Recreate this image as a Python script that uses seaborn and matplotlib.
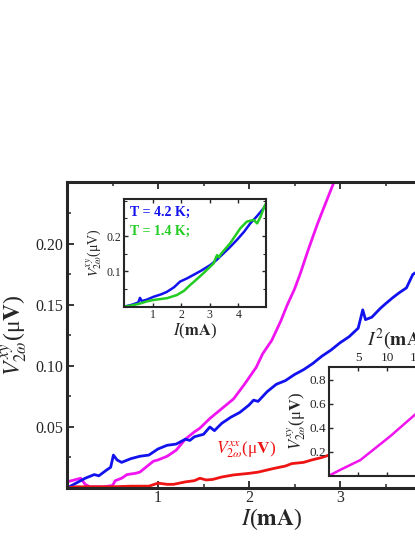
import numpy as np
import pandas as pd
import matplotlib
matplotlib.use("Agg")
import matplotlib.pyplot as plt
import seaborn as sns
from matplotlib.ticker import MultipleLocator, FixedLocator

# ---------------- data ----------------
# main panel: I (mA) vs V (uV)
blue_x = [0.0, 0.1, 0.2, 0.3, 0.35, 0.44, 0.48, 0.51, 0.55, 0.6, 0.7, 0.8, 0.9, 1.0, 1.1, 1.2, 1.3, 1.35,
          1.4, 1.5, 1.57, 1.62, 1.7, 1.8, 1.9, 2.0, 2.05, 2.1, 2.2, 2.3, 2.4, 2.5, 2.6, 2.7, 2.8, 2.9, 3.0,
          3.1, 3.2, 3.25, 3.28, 3.35, 3.44, 3.5, 3.58, 3.65, 3.73, 3.8, 3.9, 4.0, 4.2, 4.5]
blue_y = [0.000, 0.004, 0.008, 0.011, 0.010, 0.015, 0.017, 0.027, 0.023, 0.021, 0.024, 0.026, 0.027, 0.032,
          0.035, 0.036, 0.040, 0.039, 0.042, 0.044, 0.050, 0.047, 0.053, 0.058, 0.062, 0.068, 0.072, 0.071,
          0.079, 0.085, 0.088, 0.093, 0.097, 0.102, 0.108, 0.113, 0.119, 0.124, 0.131, 0.146, 0.138, 0.140,
          0.147, 0.151, 0.156, 0.160, 0.164, 0.175, 0.180, 0.188, 0.200, 0.220]

mag_x = [0.0, 0.1, 0.15, 0.2, 0.25, 0.3, 0.4, 0.5, 0.53, 0.6, 0.66, 0.75, 0.8, 0.9, 0.95, 1.0, 1.1, 1.2,
         1.3, 1.4, 1.46, 1.57, 1.7, 1.83, 1.95, 2.08, 2.15, 2.25, 2.35, 2.42, 2.5, 2.56, 2.65, 2.75, 2.85,
         2.93, 3.0]
mag_y = [0.005, 0.007, 0.008, 0.003, 0.001, 0.001, 0.001, 0.002, 0.006, 0.008, 0.011, 0.012, 0.013, 0.019,
         0.022, 0.023, 0.026, 0.031, 0.040, 0.046, 0.049, 0.057, 0.065, 0.073, 0.085, 0.099, 0.110, 0.121,
         0.137, 0.150, 0.163, 0.175, 0.195, 0.216, 0.235, 0.250, 0.265]

red_x = [0.0, 0.1, 0.3, 0.5, 0.7, 0.9, 1.0, 1.1, 1.17, 1.3, 1.4, 1.46, 1.53, 1.6, 1.7, 1.83, 2.0, 2.1,
         2.27, 2.4, 2.47, 2.6, 2.69, 2.8, 2.88, 3.0, 3.2]
red_y = [0.000, 0.001, 0.001, 0.001, 0.0015, 0.0015, 0.004, 0.003, 0.003, 0.005, 0.006, 0.008, 0.0066,
         0.007, 0.009, 0.0107, 0.012, 0.013, 0.016, 0.018, 0.020, 0.021, 0.023, 0.025, 0.027, 0.029, 0.032]

# inset 1: two temperatures
in1_blue_x = [0.0, 0.3, 0.5, 0.56, 0.62, 0.8, 1.03, 1.3, 1.5, 1.75, 1.96, 2.2, 2.43, 2.7, 3.02, 3.25,
              3.48, 3.7, 3.95, 4.2, 4.42, 4.65, 4.89, 4.95]
in1_blue_y = [0.0, 0.006, 0.012, 0.025, 0.016, 0.020, 0.028, 0.035, 0.042, 0.055, 0.071, 0.080, 0.090,
              0.102, 0.118, 0.133, 0.151, 0.168, 0.189, 0.212, 0.236, 0.256, 0.279, 0.288]
in1_green_x = [0.0, 0.3, 0.56, 0.8, 1.03, 1.3, 1.5, 1.85, 2.1, 2.31, 2.55, 2.78, 3.0, 3.14, 3.22, 3.26,
               3.32, 3.4, 3.72, 4.07, 4.3, 4.54, 4.66, 4.78, 4.89, 4.95]
in1_green_y = [0.0, 0.004, 0.009, 0.015, 0.019, 0.022, 0.024, 0.033, 0.045, 0.061, 0.078, 0.095, 0.112,
               0.123, 0.140, 0.146, 0.140, 0.150, 0.180, 0.222, 0.241, 0.246, 0.236, 0.255, 0.279, 0.290]

# inset 2: I^2 (mA^2) vs V
in2_x = [0.0, 2.0, 5.4, 8.0, 10.5, 14.8, 20.0, 25.0]
in2_y = [0.0, 0.05, 0.13, 0.23, 0.326, 0.507, 0.71, 0.91]

labels_T = ["T = 4.2 K;", "T = 1.4 K;"]

# ---------------- style ----------------
sns.set_style("ticks")
plt.rcParams["font.family"] = ["Liberation Serif", "DejaVu Serif"]
plt.rcParams["mathtext.fontset"] = "stix"
plt.rcParams["xtick.direction"] = "in"
plt.rcParams["ytick.direction"] = "in"

BLUE = "#1212ee"
MAG = "#f014f0"
RED = "#ee1414"
GREEN = "#22cc22"

W, H = 415, 537
fig = plt.figure(figsize=(W / 100, H / 100), dpi=100)

def px_axes(l, r, t, b):
    return [l / W, 1 - b / H, (r - l) / W, (b - t) / H]

# main axes
ax = fig.add_axes(px_axes(67, 67 + 4.5 * 91, 182, 488))
sns.lineplot(x=mag_x, y=mag_y, ax=ax, color=MAG, linewidth=2, sort=False)
sns.lineplot(x=blue_x, y=blue_y, ax=ax, color=BLUE, linewidth=2, sort=False)
sns.lineplot(x=red_x, y=red_y, ax=ax, color=RED, linewidth=2, sort=False)
ax.set_xlim(0, 4.5)
ax.set_ylim(0, 0.2508)
ax.xaxis.set_major_locator(FixedLocator([1, 2, 3, 4]))
ax.xaxis.set_minor_locator(MultipleLocator(0.5))
ax.yaxis.set_major_locator(FixedLocator([0.05, 0.10, 0.15, 0.20]))
ax.yaxis.set_minor_locator(MultipleLocator(0.025))
ax.set_yticklabels(["0.05", "0.10", "0.15", "0.20"])
ax.tick_params(which="both", top=True, right=True, labelsize=11.5)
ax.tick_params(axis="y", pad=3)
ax.tick_params(axis="x", pad=1.5)
ax.tick_params(which="major", length=5, width=1.3)
ax.tick_params(which="minor", length=3, width=1.1)
for s in ax.spines.values():
    s.set_linewidth(2.2)
ax.set_xlabel(r"$I$($\mathbf{mA}$)", fontsize=17, labelpad=0)
ax.set_ylabel(r"$V_{2\omega}^{xy}$(μ$\mathbf{V}$)", fontsize=17, labelpad=4)
ax.text(246 / W, 1 - 450 / H, r"$V_{2\omega}^{xx}$(μ$\mathbf{V}$)", color=RED, fontsize=12.5,
        transform=fig.transFigure, ha="center", va="center")

# inset 1
ax1 = fig.add_axes(px_axes(124, 266, 199, 306.7))
sns.lineplot(x=in1_blue_x, y=in1_blue_y, ax=ax1, color=BLUE, linewidth=1.8, sort=False)
sns.lineplot(x=in1_green_x, y=in1_green_y, ax=ax1, color=GREEN, linewidth=1.8, sort=False)
ax1.set_xlim(0, 4.97)
ax1.set_ylim(0, 0.305)
ax1.xaxis.set_major_locator(FixedLocator([1, 2, 3, 4]))
ax1.yaxis.set_major_locator(FixedLocator([0.1, 0.2]))
ax1.yaxis.set_minor_locator(MultipleLocator(0.05))
ax1.set_yticklabels(["0.1", "0.2"])
ax1.tick_params(which="both", top=True, right=True, labelsize=8.5, pad=2)
ax1.tick_params(which="major", length=3, width=1)
ax1.tick_params(which="minor", length=2, width=0.8)
for s in ax1.spines.values():
    s.set_linewidth(1.5)
ax1.set_xlabel(r"$I$($\mathbf{mA}$)", fontsize=12, labelpad=0)
ax1.set_ylabel(r"$V_{2\omega}^{xy}$(μV)", fontsize=10, labelpad=1)
ax1.text(0.04, 0.94, labels_T[0], color=BLUE, fontsize=10, fontweight="bold",
         transform=ax1.transAxes, ha="left", va="top")
ax1.text(0.04, 0.76, labels_T[1], color=GREEN, fontsize=10, fontweight="bold",
         transform=ax1.transAxes, ha="left", va="top")

# inset 2
ax2 = fig.add_axes(px_axes(329, 329 + 25 * 5.8, 366.7, 475.7))
sns.lineplot(x=in2_x, y=in2_y, ax=ax2, color=MAG, linewidth=1.8, sort=False)
ax2.set_xlim(0, 25)
ax2.set_ylim(0, 0.907)
ax2.xaxis.set_major_locator(FixedLocator([5, 10, 15, 20]))
ax2.yaxis.set_major_locator(FixedLocator([0.2, 0.4, 0.6, 0.8]))
ax2.set_yticklabels(["0.2", "0.4", "0.6", "0.8"])
ax2.tick_params(which="both", top=True, right=True, labeltop=True, labelbottom=False,
                labelsize=9.5, pad=2, length=3, width=1)
for s in ax2.spines.values():
    s.set_linewidth(1.5)
ax2.xaxis.set_label_position("top")
ax2.set_xlabel(r"$I^{2}$($\mathbf{mA}^{2}$)", fontsize=14, labelpad=5)
ax2.set_ylabel(r"$V_{2\omega}^{xy}$(μ$\mathbf{V}$)", fontsize=12, labelpad=1)

fig.savefig("out.png", dpi=100)
